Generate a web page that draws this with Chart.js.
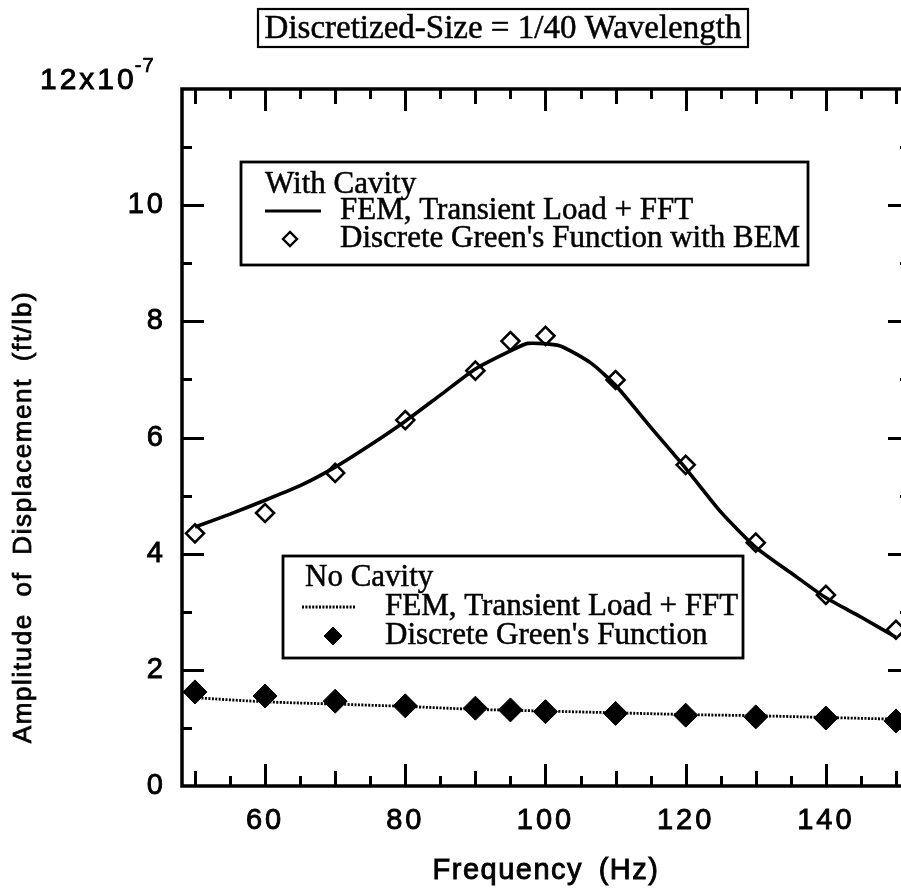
<!DOCTYPE html>
<html><head><meta charset="utf-8">
<script src="https://cdn.jsdelivr.net/npm/chart.js@4.4.0/dist/chart.umd.min.js"></script>
<style>html,body{margin:0;padding:0;background:#fff;overflow:hidden;width:901px;height:895px}
#wrap{position:relative;width:930px;height:895px}</style>
</head><body><div id="wrap"><canvas id="c" width="930" height="895"></canvas></div>
<script>
// ---- data (amplitude in units of 1e-7 ft/lb, frequency in Hz) ----
const withCavityFemFreq = [50,55,60,65,70,75,80,85,90,95,97.5,102,106.5,110,115,120,125,130,135,140,145,150];
const withCavityFemAmp  = [4.46,4.68,4.92,5.17,5.49,5.87,6.28,6.73,7.18,7.49,7.62,7.58,7.28,6.90,6.18,5.47,4.72,4.11,3.67,3.24,2.91,2.56];
const greenFreq         = [50,60,70,80,90,95,100,110,120,130,140,150];
const withCavityBemAmp  = [4.35,4.70,5.39,6.30,7.15,7.66,7.75,6.99,5.53,4.19,3.29,2.69];
const noCavityFemFreq   = [50,60,70,80,90,100,110,120,130,140,150];
const noCavityFemAmp    = [1.52,1.45,1.41,1.37,1.32,1.29,1.26,1.23,1.21,1.18,1.15];
const noCavityGreenAmp  = [1.62,1.55,1.46,1.38,1.34,1.31,1.28,1.25,1.22,1.19,1.17,1.12];
const xTickLabels = [60,80,100,120,140];
const yTickLabels = [0,2,4,6,8,10];
const titleText = 'Discretized-Size = 1/40 Wavelength';
const xTitle = 'Frequency (Hz)';
const yTitle = 'Amplitude of Displacement (ft/lb)';
const legend1 = ['With Cavity', 'FEM, Transient Load + FFT', "Discrete Green's Function with BEM"];
const legend2 = ['No Cavity', 'FEM, Transient Load + FFT', "Discrete Green's Function"];

const pts = (xs, ys) => xs.map((x, i) => ({x: x, y: ys[i]}));
const SANS = 'Liberation Sans, Arial, Helvetica, sans-serif';
const SERIF = 'Liberation Serif, Times New Roman, serif';

function diamond(c, x, y, r, fill) {
  c.beginPath();
  c.moveTo(x - r, y); c.lineTo(x, y - r); c.lineTo(x + r, y); c.lineTo(x, y + r); c.closePath();
  if (fill) { c.fillStyle = '#000'; c.fill(); }
  c.stroke();
}
function heavyText(c, t, x, y, sw) {
  c.fillText(t, x, y);
  c.lineWidth = sw; c.strokeText(t, x, y);
}

const decor = {
  id: 'decor',
  beforeDraw(chart) { chart.ctx.letterSpacing = '3px'; },
  afterDraw(chart) {
    const c = chart.ctx, a = chart.chartArea, xs = chart.scales.x, ys = chart.scales.y;
    c.save();
    c.letterSpacing = '0px';
    c.strokeStyle = '#000'; c.fillStyle = '#000';
    // frame
    c.lineWidth = 3.5;
    c.strokeRect(a.left, a.top, a.right - a.left, a.bottom - a.top);
    // inward ticks on all sides
    c.lineWidth = 3;
    c.beginPath();
    for (let v = 50; v <= 150; v += 5) {
      const px = Math.round(xs.getPixelForValue(v)) + 0.5;
      const len = v % 20 === 0 ? 22 : (v % 10 === 0 ? 15 : 10);
      c.moveTo(px, a.bottom); c.lineTo(px, a.bottom - len);
      c.moveTo(px, a.top); c.lineTo(px, a.top + len);
    }
    for (let v = 1; v < 12; v++) {
      const py = Math.round(ys.getPixelForValue(v)) + 0.5;
      const len = v % 2 === 0 ? 22 : 10;
      c.moveTo(a.left, py); c.lineTo(a.left + len, py);
      c.moveTo(a.right, py); c.lineTo(a.right - len, py);
    }
    c.stroke();

    // top y label 12x10^-7
    c.font = '30px ' + SANS; c.letterSpacing = '3px';
    c.textAlign = 'left'; c.textBaseline = 'middle';
    const yTop = ys.getPixelForValue(12);
    heavyText(c, '12x10', 40, yTop - 8, 0.9);
    const w12 = c.measureText('12x10').width;
    c.font = '20px ' + SANS; c.letterSpacing = '1px';
    heavyText(c, '-7', 40 + w12 - 2, yTop - 23, 0.7);

    // axis titles
    c.font = '26px ' + SANS; c.letterSpacing = '1.6px'; c.wordSpacing = '8px';
    c.textAlign = 'center'; c.textBaseline = 'middle';
    c.save(); c.translate(24, 517); c.rotate(-Math.PI / 2);
    heavyText(c, yTitle, 0, 0, 0.8); c.restore();
    c.font = '29px ' + SANS; c.letterSpacing = '1.5px'; c.wordSpacing = '6px';
    heavyText(c, xTitle, (a.left + a.right) / 2, 871, 0.9);
    c.letterSpacing = '0px'; c.wordSpacing = '0px';

    // title box
    c.lineWidth = 2.2;
    c.strokeRect(258, 9, 490, 38);
    c.font = '33px ' + SERIF;
    c.textAlign = 'center';
    heavyText(c, titleText, 503, 29, 0.5);

    // legend box 1
    c.lineWidth = 2.8;
    c.strokeRect(241, 162, 567, 103);
    c.font = '31px ' + SERIF; c.textAlign = 'left';
    heavyText(c, legend1[0], 265, 185, 0.5);
    heavyText(c, legend1[1], 340, 211, 0.5);
    heavyText(c, legend1[2], 340, 239, 0.5);
    c.lineWidth = 3.2;
    c.beginPath(); c.moveTo(265, 211); c.lineTo(321, 211); c.stroke();
    c.lineWidth = 2.4;
    diamond(c, 290, 239, 7, false);

    // legend box 2
    c.lineWidth = 2.8;
    c.strokeRect(283, 556, 460, 102);
    heavyText(c, legend2[0], 305, 578, 0.5);
    heavyText(c, legend2[1], 385, 607, 0.5);
    heavyText(c, legend2[2], 385, 636, 0.5);
    c.lineWidth = 2.8; c.setLineDash([2, 1.4]);
    c.beginPath(); c.moveTo(302, 607); c.lineTo(356, 607); c.stroke();
    c.setLineDash([]);
    c.lineWidth = 1;
    diamond(c, 333, 636, 9, true);
    c.restore();
  }
};

new Chart(document.getElementById('c'), {
  type: 'scatter',
  data: {
    datasets: [
      { label: 'With Cavity: FEM, Transient Load + FFT', data: pts(withCavityFemFreq, withCavityFemAmp),
        showLine: true, borderColor: '#000', borderWidth: 3.6, pointRadius: 0, tension: 0.2, fill: false },
      { label: 'No Cavity: FEM, Transient Load + FFT', data: pts(noCavityFemFreq, noCavityFemAmp),
        showLine: true, borderColor: '#000', borderWidth: 2.8, borderDash: [2, 1.4], pointRadius: 0, tension: 0.3, fill: false },
      { label: "With Cavity: Discrete Green's Function with BEM", data: pts(greenFreq, withCavityBemAmp),
        showLine: false, pointStyle: 'rectRot', pointRadius: 9, borderColor: '#000', backgroundColor: 'rgba(0,0,0,0)', borderWidth: 2.6 },
      { label: "No Cavity: Discrete Green's Function", data: pts(greenFreq, noCavityGreenAmp),
        showLine: false, pointStyle: 'rectRot', pointRadius: 12, borderColor: '#000', backgroundColor: '#000', borderWidth: 1 }
    ]
  },
  options: {
    responsive: false, animation: false, devicePixelRatio: 1,
    layout: { padding: { left: 0, right: 20, top: 89, bottom: 0 } },
    plugins: { legend: { display: false }, title: { display: false }, tooltip: { enabled: false } },
    scales: {
      x: { type: 'linear', min: 48.15, max: 152, grid: { display: false }, border: { display: false },
        afterBuildTicks: s => { s.ticks = xTickLabels.map(v => ({ value: v })); },
        afterFit: s => { s.height = 109; },
        ticks: { font: { family: SANS, size: 29 }, color: '#000', padding: 10, maxRotation: 0, autoSkip: false,
                 textStrokeColor: '#000', textStrokeWidth: 0.9 } },
      y: { min: 0, max: 12, grid: { display: false }, border: { display: false },
        afterBuildTicks: s => { s.ticks = yTickLabels.map(v => ({ value: v })); },
        afterFit: s => { s.width = 182; },
        ticks: { font: { family: SANS, size: 29 }, color: '#000', padding: 8,
                 textStrokeColor: '#000', textStrokeWidth: 0.9 } }
    }
  },
  plugins: [decor]
});
</script></body></html>
